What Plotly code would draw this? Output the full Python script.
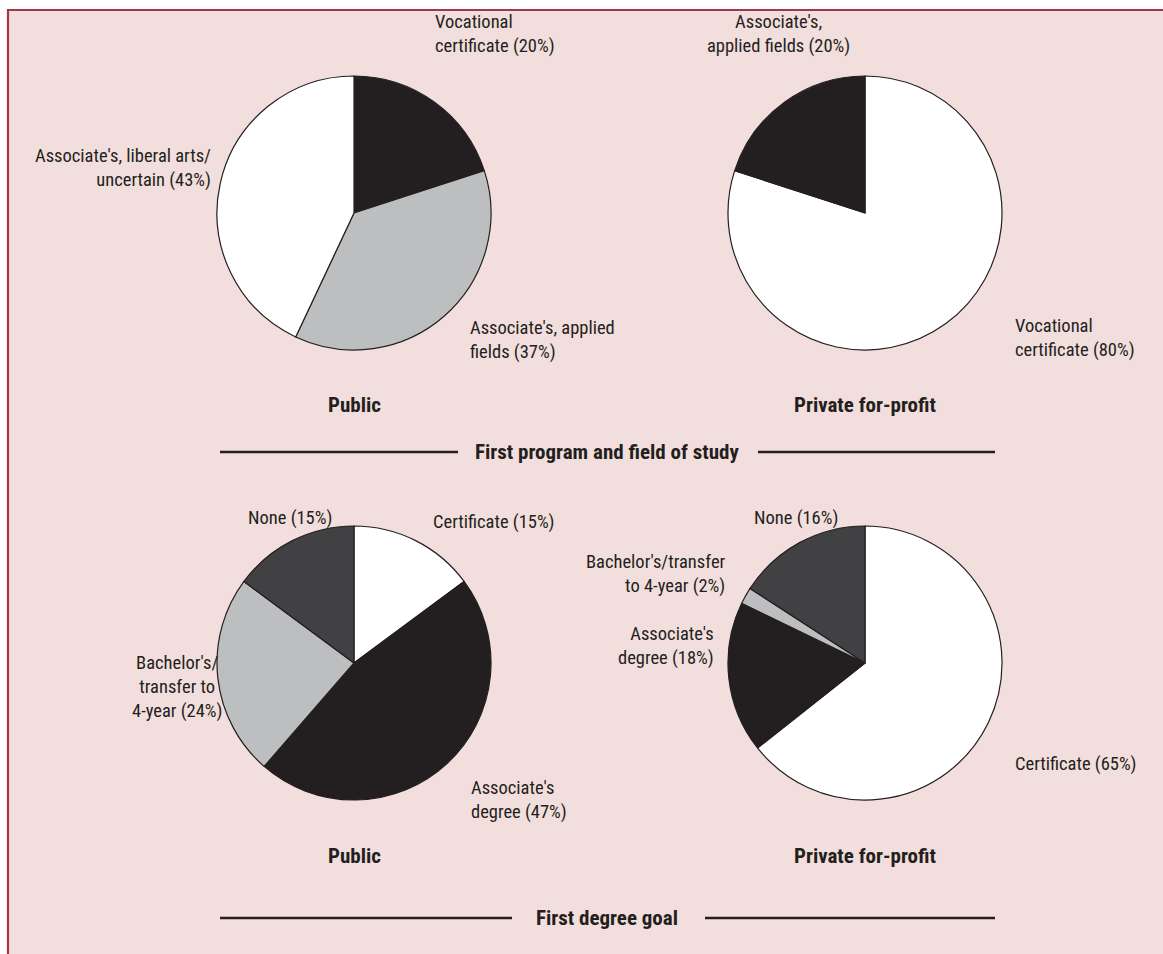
import plotly.graph_objects as go

# ---- data -------------------------------------------------------------
prog_labels_public = ["Vocational certificate", "Associate's, applied fields",
                      "Associate's, liberal arts/uncertain"]
prog_values_public = [20, 37, 43]

prog_labels_private = ["Vocational certificate", "Associate's, applied fields"]
prog_values_private = [80, 20]

goal_labels_public = ["Certificate", "Associate's degree",
                      "Bachelor's/transfer to 4-year", "None"]
goal_values_public = [15, 47, 24, 15]

goal_labels_private = ["Certificate", "Associate's degree",
                       "Bachelor's/transfer to 4-year", "None"]
goal_values_private = [65, 18, 2, 16]

# ---- styling ----------------------------------------------------------
W, H = 1163, 954
BG = "#f2dedc"
INK = "#231f20"
FONT = "Liberation Sans Narrow, Roboto Condensed, DejaVu Sans Condensed, sans-serif"
FS = 18.5
FS_HEAD = 21

BLACK, GRAY, DARK, WHITE = "#231f20", "#bcbec0", "#414042", "#ffffff"
prog_colors_public = [BLACK, GRAY, WHITE]
prog_colors_private = [WHITE, BLACK]
goal_colors = [WHITE, BLACK, GRAY, DARK]


def px(x):
    return x / W


def py(y):
    return 1 - y / H


R = 137
TOP_CY = 213      # vertical centre of the upper pair of pies
BOT_CY = 663      # vertical centre of the lower pair of pies
LEFT_CX, RIGHT_CX = 354, 865


def domain(cx, cy):
    return dict(x=[px(cx - R), px(cx + R)], y=[py(cy + R), py(cy - R)])


fig = go.Figure()

pies = [
    (prog_labels_public, prog_values_public, prog_colors_public, LEFT_CX, TOP_CY),
    (prog_labels_private, prog_values_private, prog_colors_private, RIGHT_CX, TOP_CY),
    (goal_labels_public, goal_values_public, goal_colors, LEFT_CX, BOT_CY),
    (goal_labels_private, goal_values_private, goal_colors, RIGHT_CX, BOT_CY),
]
for labels, values, colors, cx, cy in pies:
    fig.add_trace(go.Pie(
        labels=labels, values=values, sort=False, direction="clockwise",
        rotation=0, textinfo="none", hoverinfo="label+percent",
        marker=dict(colors=colors, line=dict(color=INK, width=1.2)),
        domain=domain(cx, cy), showlegend=False,
    ))

shapes = [
    # panel background with a red rule along the top and left
    dict(type="rect", xref="paper", yref="paper", x0=px(8), x1=1.01, y0=-0.01,
         y1=py(10), fillcolor=BG, line=dict(color="#a3374a", width=2.2),
         layer="below"),
]
for x0, x1, y in [(220, 458, 452), (758, 995, 452), (220, 512, 918), (705, 995, 918)]:
    shapes.append(dict(type="line", xref="paper", yref="paper", x0=px(x0),
                       x1=px(x1), y0=py(y), y1=py(y),
                       line=dict(color=INK, width=2.5)))

annotations = []


def label(text, x, y, xanchor="left", align="left", bold=False, size=FS):
    if bold:
        text = "<b>" + text + "</b>"
    annotations.append(dict(
        text=text, x=px(x), y=py(y), xref="paper", yref="paper",
        xanchor=xanchor, yanchor="middle", align=align, showarrow=False,
        font=dict(family=FONT, size=size, color=INK),
    ))


# first program and field of study
label("Vocational<br>certificate (20%)", 433, 34)
label("Associate's, liberal arts/<br>uncertain (43%)", 213, 168, "right", "right")
label("Associate's, applied<br>fields (37%)", 468, 340)
label("Associate's,<br>applied fields (20%)", 778, 34, "center", "center")
label("Vocational<br>certificate (80%)", 1013, 338)
label("Public", LEFT_CX, 405, "center", "center", bold=True, size=FS_HEAD)
label("Private for-profit", RIGHT_CX, 405, "center", "center", bold=True, size=FS_HEAD)
label("First program and field of study", 607, 452, "center", "center",
      bold=True, size=FS_HEAD)

# first degree goal
label("None (15%)", 334, 518, "right", "right")
label("Certificate (15%)", 431, 522)
label("Bachelor's/<br>transfer to<br>4-year (24%)", 177, 687, "center", "center")
label("Associate's<br>degree (47%)", 469, 800)
label("None (16%)", 840, 518, "right", "right")
label("Bachelor's/transfer<br>to 4-year (2%)", 728, 574, "right", "right")
label("Associate's<br>degree (18%)", 716, 646, "right", "right")
label("Certificate (65%)", 1013, 764)
label("Public", LEFT_CX, 856, "center", "center", bold=True, size=FS_HEAD)
label("Private for-profit", RIGHT_CX, 856, "center", "center", bold=True, size=FS_HEAD)
label("First degree goal", 607, 918, "center", "center", bold=True, size=FS_HEAD)

fig.update_layout(
    width=W, height=H, margin=dict(l=0, r=0, t=0, b=0),
    paper_bgcolor="#ffffff", plot_bgcolor="#ffffff",
    shapes=shapes, annotations=annotations,
)

fig.write_html("out.html")
